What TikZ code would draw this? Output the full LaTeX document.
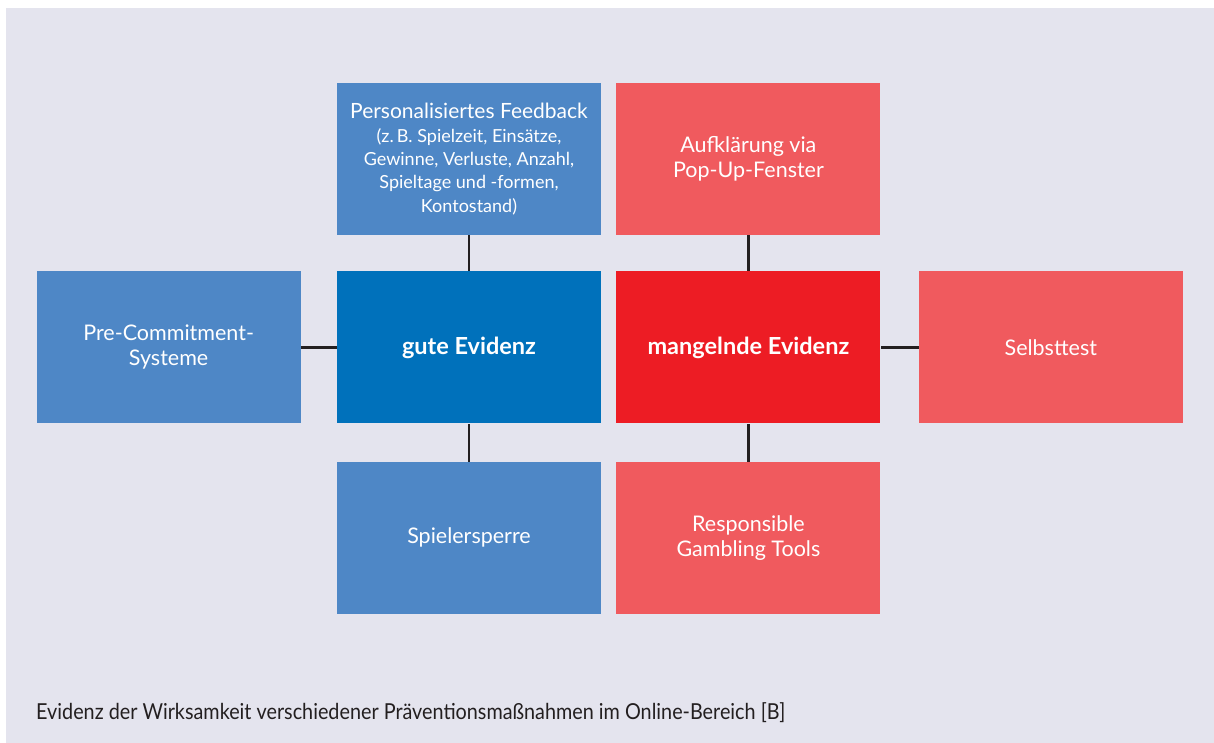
\documentclass[tikz,border=0pt]{standalone}
\usepackage{fontspec}
\setmainfont{Lato}
\newfontfamily\captionfont[FakeStretch=0.9]{Lato}
\usetikzlibrary{positioning}
\definecolor{bgLavender}{RGB}{228,228,238}
\definecolor{goodBlue}{RGB}{0,113,187}
\definecolor{goodLight}{RGB}{78,135,198}
\definecolor{poorRed}{RGB}{237,28,36}
\definecolor{poorLight}{RGB}{240,90,94}
\definecolor{linkGray}{RGB}{35,31,32}

\begin{document}
\begin{tikzpicture}[
        measure/.style={minimum width=264pt, minimum height=152pt, inner sep=0pt,
          text=white, align=center, font=\fontsize{21.5}{25}\selectfont},
        core/.style={measure, font=\fontsize{23.5}{25}\selectfont\bfseries},
        detail/.style={font=\fontsize{18}{23.3}\selectfont},
        link/.style={draw=linkGray, line width=2.4pt}
      ]
        \useasboundingbox (0,0) rectangle (1214pt,743pt);
        \fill[white] (0,0) rectangle (1214pt,743pt);
        \fill[bgLavender] (6pt,0) rectangle (1214pt,735pt);
        \node[core, fill=goodBlue] (gute) at (469pt,395.5pt) {gute Evidenz};
        \node[core, fill=poorRed, right=15pt of gute] (mangelnde) {mangelnde Evidenz};
        \node[measure, detail, fill=goodLight, above=36pt of gute] (feedback)
          {{\fontsize{21}{25}\selectfont Personalisiertes Feedback}\\
          (z.\,B. Spielzeit, Einsätze,\\Gewinne, Verluste, Anzahl,\\Spieltage und -formen,\\Kontostand)};
        \node[measure, fill=goodLight, left=36pt of gute] (precommit) {Pre-Commitment-\\Systeme};
        \node[measure, fill=goodLight, below=38pt of gute] (sperre) {Spielersperre};
        \node[measure, fill=poorLight, above=36pt of mangelnde] (popup) {Aufklärung via\\Pop-Up-Fenster};
        \node[measure, fill=poorLight, right=38pt of mangelnde] (selbsttest) {Selbsttest};
        \node[measure, fill=poorLight, below=38pt of mangelnde] (tools) {Responsible\\Gambling Tools};
        \draw[link] (feedback) -- (gute);
        \draw[link] (precommit) -- (gute);
        \draw[link] (sperre) -- (gute);
        \draw[link] (popup) -- (mangelnde);
        \draw[link] (selbsttest) -- (mangelnde);
        \draw[link] (tools) -- (mangelnde);
        \node[anchor=base west, inner sep=0pt, text=linkGray, font=\captionfont\fontsize{22}{26}\selectfont] (caption) at (36pt,23.7pt)
          {Evidenz der Wirksamkeit verschiedener Präventionsmaßnahmen im Online-Bereich [B]};
      \end{tikzpicture}
\end{document}
